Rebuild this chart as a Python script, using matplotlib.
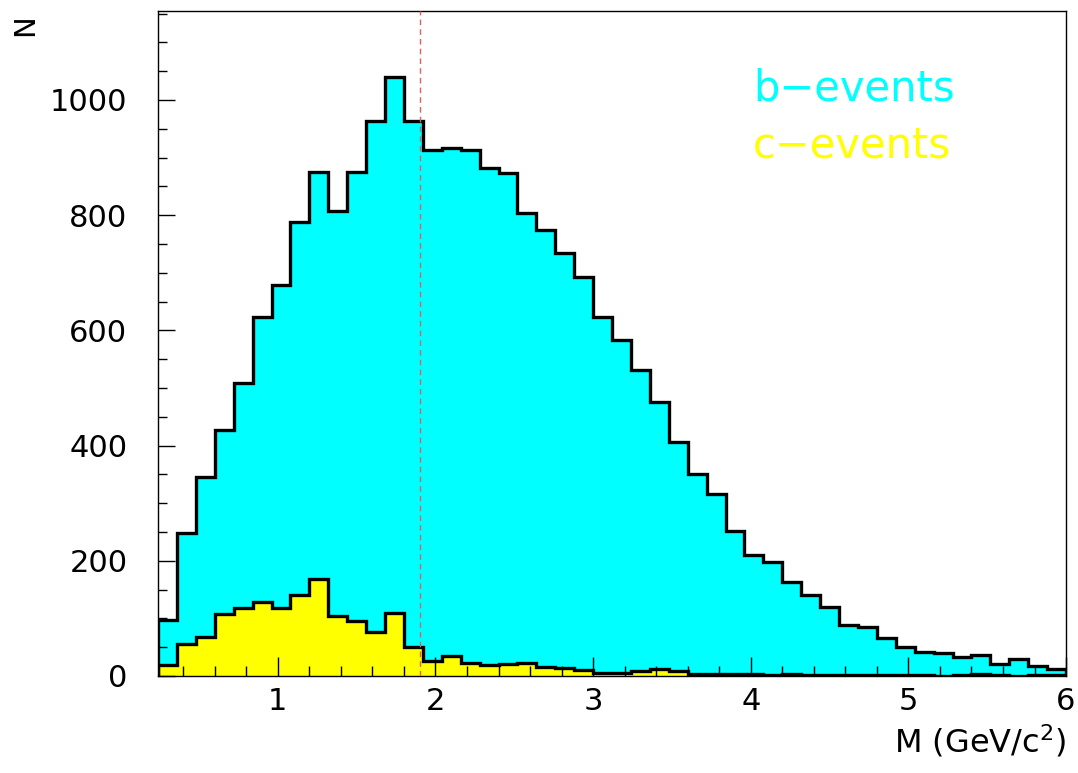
import numpy as np
import matplotlib
matplotlib.use("Agg")
import matplotlib.pyplot as plt
from matplotlib.ticker import MultipleLocator

# binning of the mass histograms
x_min = 0.24
x_max = 6.0
bin_width = 0.12
n_bins = 48

# entries per bin
b_events = [97, 248, 346, 427, 508, 624, 679, 788, 875, 807, 875, 963,
            1040, 963, 913, 916, 913, 882, 874, 803, 774, 735, 692, 624,
            583, 531, 476, 406, 351, 316, 252, 210, 198, 163, 140, 120,
            88, 85, 66, 50, 42, 40, 33, 37, 21, 30, 17, 12]
c_events = [19, 56, 67, 108, 118, 128, 118, 141, 168, 104, 96, 77,
            110, 51, 26, 35, 23, 19, 21, 22, 15, 14, 11, 5,
            5, 9, 13, 9, 4, 4, 3, 3, 2, 4, 2, 2,
            1, 1, 1, 1, 1, 0, 1, 3, 1, 0, 1, 1]

cut_value = 1.9
y_max = 1155

edges = x_min + bin_width * np.arange(n_bins + 1)

plt.rcParams['font.family'] = ['DejaVu Sans']

fig = plt.figure(figsize=(10.78, 7.73), dpi=100)
ax = fig.add_axes([0.1466, 0.1255, 0.9889 - 0.1466, 0.9862 - 0.1255])

# b-events: cyan fill with black outline
ax.stairs(b_events, edges, fill=True, color='#00ffff', zorder=1)
ax.stairs(b_events, edges, color='black', lw=2.4, zorder=2)
# c-events on top
ax.stairs(c_events, edges, fill=True, color='#ffff00', zorder=1.1)
ax.stairs(c_events, edges, color='black', lw=2.4, zorder=2.1)

# cut line
ax.axvline(cut_value, color='#e06060', lw=1.0, ls=(0, (4, 3)), zorder=3)

ax.set_xlim(x_min, x_max)
ax.set_ylim(0, y_max)

ax.xaxis.set_major_locator(MultipleLocator(1))
ax.xaxis.set_minor_locator(MultipleLocator(0.2))
ax.yaxis.set_major_locator(MultipleLocator(200))
ax.yaxis.set_minor_locator(MultipleLocator(50))

ax.tick_params(axis='x', which='major', direction='in', length=13.5, width=1,
               labelsize=22, pad=8)
ax.tick_params(axis='x', which='minor', direction='in', length=7, width=1)
ax.tick_params(axis='y', which='major', direction='in', length=12, width=1,
               labelsize=22, pad=22)
ax.tick_params(axis='y', which='minor', direction='in', length=6.5, width=1)
ax.tick_params(top=False, right=False, which='both')

for s in ax.spines.values():
    s.set_linewidth(1.0)

ax.text(1.0, -0.098, r'M (GeV/c$^{2}$)', transform=ax.transAxes,
        ha='right', va='center', fontsize=23)
fig.text(25 / 1078, 1 - 14 / 773, 'N', rotation=90, ha='center', va='top',
         fontsize=21)

ax.text(0.655, 0.865, 'b\u2212events', transform=ax.transAxes, color='#00ffff',
        fontsize=30, ha='left', va='baseline')
ax.text(0.655, 0.779, 'c\u2212events', transform=ax.transAxes, color='#ffff00',
        fontsize=30, ha='left', va='baseline')

fig.savefig('out.png', dpi=100)
